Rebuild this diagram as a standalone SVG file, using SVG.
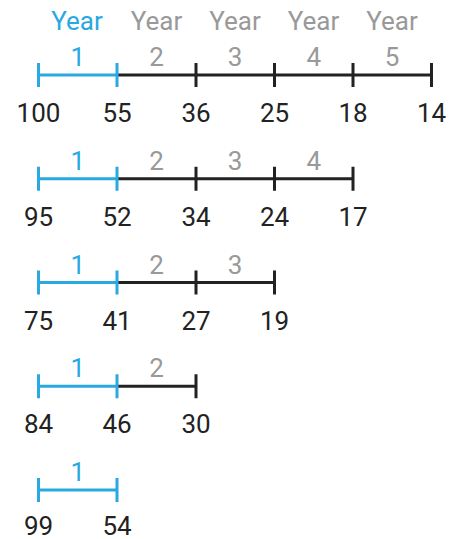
<svg xmlns="http://www.w3.org/2000/svg" width="450" height="539" viewBox="0 0 450 539">
<style>
text{font-family:Roboto,"Liberation Sans",sans-serif;font-size:26px;text-anchor:middle}
.yr{fill:#999}
.yb{fill:#29a9df}
.num{fill:#222}
.lb{stroke:#29a9df;stroke-width:3;fill:none}
.lk{stroke:#222;stroke-width:3;fill:none}
</style>
<g id="header">
<text class="yb" x="77" y="30">Year</text>
<text class="yr" x="156.5" y="30">Year</text>
<text class="yr" x="235" y="30">Year</text>
<text class="yr" x="313.5" y="30">Year</text>
<text class="yr" x="392" y="30">Year</text>
</g>
<g id="connectors">
<path class="lk" d="M117 75H431.5M196 63V87M274.5 63V87M353 63V87M431.5 63V87"/>
<path class="lb" d="M38.5 75H117M38.5 63V87M117 63V87"/>
<path class="lk" d="M117 178.75H353M196 166.75V190.75M274.5 166.75V190.75M353 166.75V190.75"/>
<path class="lb" d="M38.5 178.75H117M38.5 166.75V190.75M117 166.75V190.75"/>
<path class="lk" d="M117 282.5H274.5M196 270.5V294.5M274.5 270.5V294.5"/>
<path class="lb" d="M38.5 282.5H117M38.5 270.5V294.5M117 270.5V294.5"/>
<path class="lk" d="M117 386.25H196M196 374.25V398.25"/>
<path class="lb" d="M38.5 386.25H117M38.5 374.25V398.25M117 374.25V398.25"/>
<path class="lb" d="M38.5 490H117M38.5 478V502M117 478V502"/>
</g>
<g id="row1">
<text class="yb" x="77.75" y="66">1</text>
<text class="yr" x="156.5" y="66">2</text>
<text class="yr" x="235" y="66">3</text>
<text class="yr" x="313.75" y="66">4</text>
<text class="yr" x="392" y="66">5</text>
<text class="num" x="38.5" y="122">100</text>
<text class="num" x="117" y="122">55</text>
<text class="num" x="196" y="122">36</text>
<text class="num" x="274.5" y="122">25</text>
<text class="num" x="353" y="122">18</text>
<text class="num" x="431.5" y="122">14</text>
</g>
<g id="row2">
<text class="yb" x="77.75" y="169.75">1</text>
<text class="yr" x="156.5" y="169.75">2</text>
<text class="yr" x="235" y="169.75">3</text>
<text class="yr" x="313.75" y="169.75">4</text>
<text class="num" x="38.5" y="225.75">95</text>
<text class="num" x="117" y="225.75">52</text>
<text class="num" x="196" y="225.75">34</text>
<text class="num" x="274.5" y="225.75">24</text>
<text class="num" x="353" y="225.75">17</text>
</g>
<g id="row3">
<text class="yb" x="77.75" y="273.5">1</text>
<text class="yr" x="156.5" y="273.5">2</text>
<text class="yr" x="235" y="273.5">3</text>
<text class="num" x="38.5" y="329.5">75</text>
<text class="num" x="117" y="329.5">41</text>
<text class="num" x="196" y="329.5">27</text>
<text class="num" x="274.5" y="329.5">19</text>
</g>
<g id="row4">
<text class="yb" x="77.75" y="377.25">1</text>
<text class="yr" x="156.5" y="377.25">2</text>
<text class="num" x="38.5" y="433.25">84</text>
<text class="num" x="117" y="433.25">46</text>
<text class="num" x="196" y="433.25">30</text>
</g>
<g id="row5">
<text class="yb" x="77.75" y="481">1</text>
<text class="num" x="38.5" y="535">99</text>
<text class="num" x="117" y="535">54</text>
</g>
</svg>
